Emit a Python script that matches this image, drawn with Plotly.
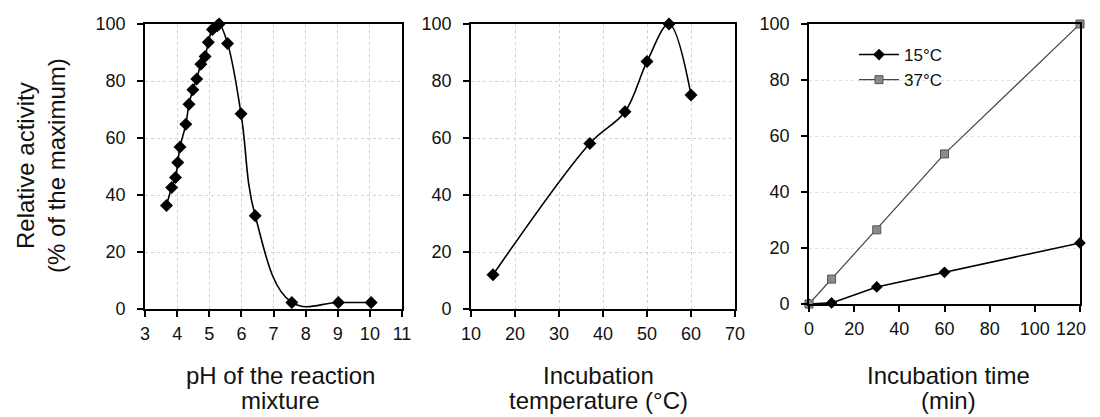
import plotly.graph_objects as go
from plotly.subplots import make_subplots

# panel A: pH profile
ph = [3.67, 3.83, 3.95, 4.02, 4.09, 4.27, 4.37, 4.49, 4.61, 4.74, 4.87, 4.97,
      5.1, 5.25, 5.31, 5.57, 5.99, 6.43, 7.57, 9.02, 10.04]
ph_activity = [36.3, 42.6, 46.1, 51.4, 56.8, 64.8, 71.8, 76.9, 80.7, 85.9, 88.6,
               93.6, 98.1, 99.4, 100, 93.2, 68.5, 32.7, 2.3, 2.3, 2.3]

# panel B: temperature profile
temp = [15, 37, 45, 50, 55, 60]
temp_activity = [12.0, 58.1, 69.2, 86.8, 100, 75.1]

# panel C: time course
time_min = [0, 10, 30, 60, 120]
act_15 = [0, 0.4, 6.1, 11.3, 21.8]
act_37 = [0, 8.9, 26.5, 53.6, 100]
time_ticks = [0, 20, 40, 60, 80, 100, 120]

FONT = "Liberation Sans, Arial, sans-serif"
W, H = 1100, 417
OFF = 8  # page body margin shifts the figure by 8px


def fx(x):
    return (x - OFF) / W


def fy(y):
    return 1 - (y - OFF) / H


fig = make_subplots(rows=1, cols=3)

fig.add_trace(go.Scatter(
    x=ph, y=ph_activity, mode="lines+markers", showlegend=False, cliponaxis=False,
    line=dict(color="black", width=1.6, shape="spline", smoothing=1.15),
    marker=dict(symbol="diamond", size=10, color="black")), row=1, col=1)

fig.add_trace(go.Scatter(
    x=temp, y=temp_activity, mode="lines+markers", showlegend=False, cliponaxis=False,
    line=dict(color="black", width=1.6, shape="spline", smoothing=1),
    marker=dict(symbol="diamond", size=10, color="black")), row=1, col=2)

fig.add_trace(go.Scatter(
    x=time_min, y=act_15, mode="lines+markers", name="15°C", cliponaxis=False,
    line=dict(color="black", width=1.6),
    marker=dict(symbol="diamond", size=9, color="black")), row=1, col=3)

fig.add_trace(go.Scatter(
    x=time_min, y=act_37, mode="lines+markers", name="37°C", cliponaxis=False,
    line=dict(color="#444444", width=1.2),
    marker=dict(symbol="square", size=8, color="#8a8a8a",
                line=dict(color="#555555", width=1))), row=1, col=3)

tick_font = dict(family=FONT, size=18, color="#111")
axis_style = dict(
    showline=True, mirror=True, linecolor="black", linewidth=1.6,
    ticks="outside", ticklen=6, tickwidth=1.5, tickcolor="black", automargin=False,
    zeroline=False, showgrid=True, gridcolor="#d2d2d2", gridwidth=1, griddash="dot",
    tickfont=tick_font,
)

fig.update_xaxes(**axis_style)
fig.update_yaxes(**axis_style)

# last time label sits left of its tick, as in the original
time_text = [str(t) for t in time_ticks[:-1]] + [""]

fig.update_layout(
    width=W, height=H,
    margin=dict(l=0, r=0, t=0, b=0),
    paper_bgcolor="white", plot_bgcolor="white",
    xaxis=dict(domain=[fx(145), fx(402)], range=[3, 11], dtick=1, ticklabelstandoff=2),
    yaxis=dict(domain=[fy(309), fy(24)], range=[0, 100], dtick=20, ticklabelstandoff=8),
    xaxis2=dict(domain=[fx(471), fx(735)], range=[10, 70], dtick=10, ticklabelstandoff=2),
    yaxis2=dict(domain=[fy(309), fy(24)], range=[0, 100], dtick=20, ticklabelstandoff=8),
    xaxis3=dict(domain=[fx(809), fx(1080)], range=[0, 120], tickvals=time_ticks,
                ticktext=time_text, showgrid=False, ticklabelstandoff=2),
    yaxis3=dict(domain=[fy(304), fy(24)], range=[0, 100], dtick=20, ticklabelstandoff=8,
                gridcolor="#e2e2e2"),
    legend=dict(x=fx(854), y=fy(37), xanchor="left", yanchor="top",
                bgcolor="rgba(0,0,0,0)", font=dict(family=FONT, size=17, color="#111"),
                itemwidth=40),
    font=dict(family=FONT, color="#111"),
)

fig.add_annotation(text=str(time_ticks[-1]), x=fx(1071), y=fy(329), xref="paper", yref="paper",
                   showarrow=False, font=tick_font, xanchor="center", yanchor="middle")

title_font = dict(family=FONT, size=24, color="#111")
fig.add_annotation(text="Relative activity<br>(% of the maximum)", x=fx(41), y=fy(166),
                   xref="paper", yref="paper", showarrow=False, textangle=-90,
                   font=title_font, xanchor="center", yanchor="middle")

# x titles: one annotation per line, tighter spacing than plotly's default
x_titles = [
    ("pH of the reaction", "mixture", 280),
    ("Incubation", "temperature (°C)", 598),
    ("Incubation time", "(min)", 948),
]
for line1, line2, px in x_titles:
    for text, py in ((line1, 375), (line2, 400)):
        fig.add_annotation(text=text, x=fx(px), y=fy(py), xref="paper", yref="paper",
                           showarrow=False, font=title_font,
                           xanchor="center", yanchor="middle")

fig.write_html("out.html")
